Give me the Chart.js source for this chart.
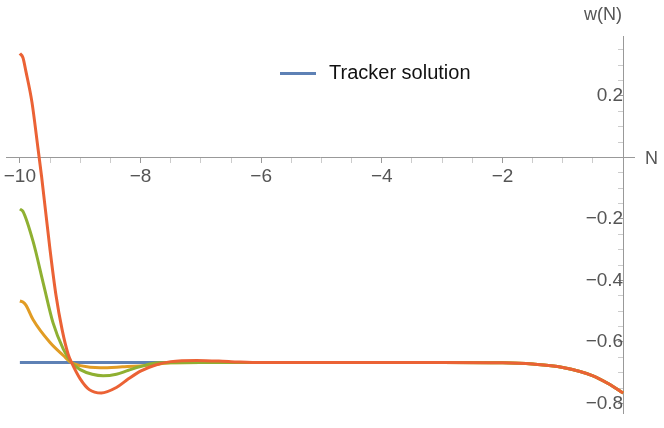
<!DOCTYPE html>
<html>
<head>
<meta charset="utf-8">
<script src="https://cdn.jsdelivr.net/npm/chart.js@4/dist/chart.umd.min.js"></script>
<style>
  body { margin: 0; background: #fff; }
  #wrap { position: relative; width: 664px; height: 428px; font-family: "Liberation Sans", Arial, sans-serif; }
  .lbl { position: absolute; color: #555; font-size: 18px; }
  #legend { position: absolute; left: 280px; top: 61px; font-size: 20px; color: #111; }
  #legend span { display: inline-block; width: 36px; height: 3px; background: #5E81B5; vertical-align: middle; margin-right: 13px; }
</style>
</head>
<body>
<div id="wrap">
  <canvas id="chart" width="664" height="428"></canvas>
  <div class="lbl" style="left:584px; top:4px;">w(N)</div>
  <div class="lbl" style="left:645px; top:148px;">N</div>
  <div id="legend"><span></span>Tracker solution</div>
</div>
<script>
// Values
const nBlue = [-10, -9, -8, -7, -6, -5, -4, -3];
const wBlue = [-0.667, -0.667, -0.667, -0.667, -0.667, -0.667, -0.667, -0.667];

const nTail = [-6, -5, -4, -3, -2, -1.5, -1, -0.5, -0.25, 0];
const wTail = [-0.667, -0.667, -0.667, -0.667, -0.668, -0.672, -0.683, -0.710, -0.735, -0.766];

const nOrange = [-10, -9.95, -9.9, -9.78, -9.5, -9.28, -9.14, -9.0, -8.67, -8.3, -7.86, -7.5, -7];
const wOrange = [-0.467, -0.47, -0.48, -0.528, -0.602, -0.644, -0.668, -0.677, -0.684, -0.681, -0.676, -0.668, -0.667];

const nGreen = [-10, -9.95, -9.78, -9.61, -9.45, -9.28, -9.14, -9.0, -8.8, -8.62, -8.4, -8.2, -8.0, -7.7, -7];
const wGreen = [-0.168, -0.175, -0.274, -0.411, -0.538, -0.623, -0.668, -0.69, -0.705, -0.71, -0.705, -0.692, -0.68, -0.668, -0.667];

const nRed = [-10, -9.95, -9.9, -9.8, -9.7, -9.64, -9.5, -9.4, -9.3, -9.2, -9.14, -9.0, -8.85, -8.65, -8.4, -8.2, -8.0, -7.75, -7.5, -7.07, -6.5];
const wRed = [0.338, 0.325, 0.28, 0.18, 0.03, -0.062, -0.3, -0.45, -0.56, -0.64, -0.668, -0.72, -0.755, -0.766, -0.748, -0.72, -0.695, -0.675, -0.664, -0.66, -0.664];

const xMajor = [-10, -8, -6, -4, -2];
const yMajor = [0.2, -0.2, -0.4, -0.6, -0.8];

function pts(xs, ys) {
    return xs.map((x, i) => ({ x: x, y: ys[i] }));
}

function withTail(xs, ys) {
    return pts(xs, ys).concat(pts(nTail, wTail).filter(p => p.x > xs[xs.length - 1]));
}

function isMajor(list, v) {
    return list.some(m => Math.abs(m - v) < 1e-6);
}

const fmt = v => (v < 0 ? '\u2212' + Math.abs(v) : String(v));

function line(label, data, color) {
    return {
        label: label,
        data: data,
        borderColor: color,
        borderWidth: 3,
        pointRadius: 0,
        fill: false,
        cubicInterpolationMode: 'monotone'
    };
}

new Chart(document.getElementById('chart'), {
    type: 'line',
    data: {
        datasets: [
            line('Red', withTail(nRed, wRed), '#EB6235'),
            line('Green', withTail(nGreen, wGreen), '#8FB032'),
            line('Orange', withTail(nOrange, wOrange), '#E19C24'),
            line('Tracker solution', pts(nBlue, wBlue), '#5E81B5')
        ]
    },
    options: {
        responsive: false,
        animation: false,
        layout: { padding: { left: 6, right: 30, top: 36, bottom: 5 } },
        plugins: { legend: { display: false }, tooltip: { enabled: false } },
        scales: {
            x: {
                type: 'linear',
                min: -10.23,
                max: 0.18,
                position: { y: 0 },
                afterBuildTicks: scale => {
                    const t = [];
                    for (let v = -10; v <= -0.5; v += 0.5) t.push({ value: v });
                    scale.ticks = t;
                },
                grid: {
                    drawOnChartArea: false,
                    tickLength: 5,
                    tickColor: ctx => isMajor(xMajor, ctx.tick.value) ? '#999' : '#ccc'
                },
                border: { color: '#999' },
                ticks: {
                    autoSkip: false,
                    maxRotation: 0,
                    color: '#555',
                    font: { family: 'Liberation Sans', size: 19 },
                    callback: v => isMajor(xMajor, v) ? fmt(v) : ''
                }
            },
            y: {
                type: 'linear',
                min: -0.833,
                max: 0.395,
                position: { x: 0 },
                afterBuildTicks: scale => {
                    const t = [];
                    for (let i = -16; i <= 7; i++) if (i !== 0) t.push({ value: i * 0.05 });
                    scale.ticks = t;
                },
                grid: {
                    drawOnChartArea: false,
                    tickLength: 5,
                    tickColor: ctx => isMajor(yMajor, ctx.tick.value) ? '#999' : '#ccc'
                },
                border: { color: '#999' },
                ticks: {
                    autoSkip: false,
                    color: '#555',
                    font: { family: 'Liberation Sans', size: 19 },
                    callback: v => isMajor(yMajor, v) ? fmt(Math.round(v * 100) / 100) : ''
                }
            }
        }
    }
});
</script>
</body>
</html>
